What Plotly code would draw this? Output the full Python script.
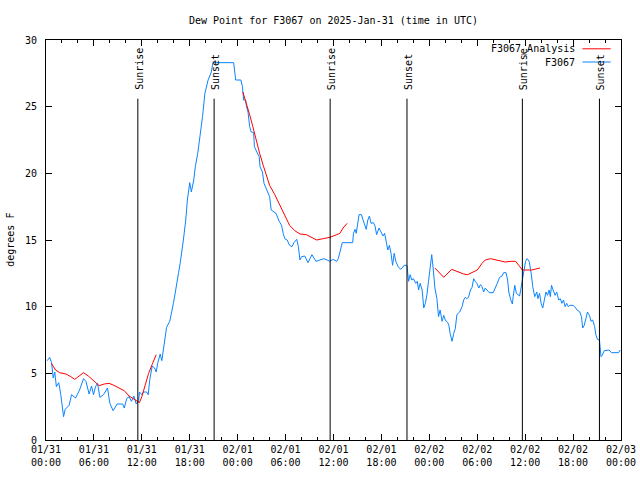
import plotly.graph_objects as go
import pandas as pd

START = "2025-01-31 00:00"

# Observed dew point (hours since start, degrees F)
obs_hours = [0.16, 0.46, 0.7, 0.9, 1.1, 1.3, 1.6, 1.85, 2.2, 2.4, 2.9, 3.2, 3.7, 4.2, 4.7, 5.0, 5.4, 5.7, 5.95,
             6.2, 6.45, 6.75, 7.2, 7.7, 8.0, 8.4, 8.9, 9.6, 9.8, 10.1, 10.4, 10.7, 11.0, 11.3, 11.6, 11.7, 12.0,
             12.2, 12.6, 12.8, 13.0, 13.3, 13.6, 13.8, 14.0, 14.3, 14.5, 14.8, 15.0, 15.1, 15.5, 15.7, 15.95,
             16.2, 16.4, 16.6, 16.8, 17.05, 17.2, 17.5, 17.7, 18.0, 18.2, 18.5, 18.7, 19.0, 19.2, 19.6, 19.9,
             20.3, 20.7, 20.9, 23.5, 23.75, 24.4, 24.6, 24.75, 25.0, 25.1, 25.3, 25.5, 25.7, 26.0, 26.1, 26.4,
             26.7, 26.8, 27.1, 27.3, 27.5, 27.8, 28.0, 28.2, 28.8, 29.2, 29.5, 29.7, 29.9, 30.2, 30.5, 30.8,
             31.05, 31.4, 31.6, 31.8, 32.0, 32.4, 32.8, 33.3, 33.8, 34.3, 34.8, 35.2, 35.55, 35.95, 36.4, 36.6,
             37.1, 38.4, 38.5, 38.7, 38.85, 39.2, 39.5, 39.7, 39.9, 40.1, 40.3, 40.5, 40.7, 41.0, 41.2, 41.4,
             41.7, 42.0, 42.2, 42.4, 42.6, 42.8, 43.0, 43.2, 43.4, 43.6, 43.8, 44.1, 44.4, 44.6, 44.85, 45.2,
             45.4, 45.6, 45.8, 46.0, 46.3, 46.5, 46.65, 46.85, 47.1, 47.3, 47.5, 47.7, 47.9, 48.1, 48.3, 48.5,
             48.7, 48.95, 49.15, 49.35, 49.6, 49.8, 50.0, 50.3, 50.45, 50.6, 50.85, 51.05, 51.25, 51.45, 51.8,
             52.1, 52.3, 52.5, 52.7, 52.9, 53.15, 53.35, 53.55, 53.75, 53.95, 54.2, 54.4, 54.6, 54.8, 55.0,
             55.2, 55.5, 56.0, 56.3, 56.5, 56.8, 57.1, 57.3, 57.6, 57.8, 57.95, 58.2, 58.4, 58.5, 58.7, 58.9,
             59.1, 59.3, 59.45, 59.65, 59.85, 60.05, 60.25, 60.5, 60.75, 60.95, 61.2, 61.45, 61.6, 61.8, 62.0,
             62.2, 62.4, 62.6, 62.8, 63.0, 63.15, 63.3, 63.5, 63.75, 63.95, 64.2, 64.4, 64.6, 64.8, 65.0, 65.2,
             65.4, 65.6, 66.0, 66.2, 66.5, 66.85, 67.05, 67.2, 67.4, 67.6, 67.8, 68.05, 68.25, 68.45, 68.7,
             68.85, 69.05, 69.3, 69.4, 69.5, 69.65, 69.9, 70.5, 70.8, 71.7, 71.9]
obs_values = [5.95, 6.2, 5.8, 4.65, 5.1, 4.0, 4.3, 3.4, 1.75, 2.3, 2.6, 3.4, 3.15, 3.75, 4.6, 4.4, 3.45, 4.05, 3.4,
              4.0, 4.25, 3.2, 3.4, 3.9, 2.75, 2.2, 2.7, 2.7, 2.4, 3.1, 3.25, 2.9, 3.3, 2.7, 2.95, 3.6, 3.4,
              3.6, 3.6, 3.4, 4.55, 5.55, 5.4, 5.1, 5.8, 6.45, 5.95, 7.25, 8.0, 8.45, 8.9, 9.45, 10.25,
              11.1, 11.95, 12.55, 13.25, 14.25, 15.0, 16.5, 18.0, 19.3, 18.6, 19.5, 20.5, 21.5, 22.4, 24.25, 26.0,
              27.0, 27.6, 28.3, 28.3, 27.0, 27.0, 26.5, 25.5, 25.5, 25.0, 24.6, 23.5, 23.1, 23.05, 22.0, 21.6,
              21.25, 20.5, 20.1, 19.25, 19.0, 18.6, 18.25, 17.25, 17.0, 16.4, 16.1, 15.5, 15.1, 15.0, 14.6, 14.5,
              14.8, 15.05, 14.5, 13.5, 13.75, 13.8, 13.3, 13.9, 13.4, 13.5, 13.6, 13.5, 13.4, 13.55, 13.4, 13.6,
              14.8, 14.8, 15.5, 15.8, 15.5, 16.9, 16.9, 16.5, 16.1, 15.8, 16.5, 16.8, 16.25, 16.3, 16.05, 15.4,
              15.9, 15.55, 15.3, 15.5, 14.75, 14.25, 14.6, 14.0, 13.1, 14.0, 13.4, 13.0, 12.8, 12.9, 13.1, 13.1,
              11.9, 12.4, 12.0, 12.1, 11.75, 11.9, 11.25, 11.75, 11.25, 9.9, 10.25, 10.9, 11.9, 13.0, 13.9, 12.75,
              11.4, 10.6, 9.25, 9.75, 8.9, 9.35, 9.0, 8.8, 8.6, 8.0, 7.4, 8.0, 8.35, 9.4, 9.6,
              10.0, 10.5, 10.7, 10.6, 10.7, 11.25, 11.45, 12.1, 11.9, 11.75, 11.4, 11.65, 11.5, 11.1, 11.4,
              11.25, 11.05, 11.05, 11.4, 11.75, 12.2, 12.3, 12.55, 12.55, 12.0, 11.1, 10.5, 10.2, 10.75, 11.6, 11.0,
              10.9, 10.8, 11.3, 12.0, 12.9, 13.4, 13.6, 13.4, 12.5, 11.5, 10.75, 11.1, 10.6, 11.0, 10.25,
              9.9, 10.5, 11.1, 10.85, 11.25, 10.75, 11.6, 11.25, 10.85, 11.1, 10.5, 10.6, 10.25, 10.5, 10.0, 10.25,
              10.0, 10.1, 10.1, 10.0, 9.75, 9.6, 9.25, 8.4, 8.6, 9.1, 9.6, 9.35, 8.9, 9.0, 8.5,
              7.9, 7.55, 7.5, 6.5, 6.25, 6.35, 6.7, 6.75, 6.55, 6.55, 6.75]

# Analysis dew point segments (None = gap)
ana_hours = [0.67, 1.2, 1.7, 2.5, 3.1, 3.6, 4.15, 4.7, 5.3, 5.8, 6.2, 6.65, 7.3, 7.9, 8.5, 9.2, 9.8, 10.4, 11.0,
             11.4, 11.7, 12.0, 12.45, 12.85, 13.35, 13.8, 18.0,
             24.65, 25.1, 25.5, 25.9, 26.3, 26.75, 27.2, 27.6, 28.0, 28.65, 29.3, 29.9, 30.5, 31.15, 31.8, 32.6,
             33.25, 33.9, 34.7, 35.55, 36.4, 36.8, 37.2, 37.7, 42.0,
             48.7, 49.8, 50.8, 51.6, 52.3, 52.8, 53.35, 54.0, 54.6, 55.0, 55.65, 56.3, 56.9, 57.5, 58.2, 58.8,
             59.2, 59.65, 60.8, 61.3, 61.85]
ana_values = [5.75, 5.25, 5.05, 4.95, 4.75, 4.55, 4.8, 5.05, 4.8, 4.55, 4.3, 4.075, 4.2, 4.25, 4.1, 3.9, 3.7, 3.3,
              3.05, 2.95, 2.8, 3.25, 4.1, 5.0, 5.75, 6.4, None,
              26.1, 25.25, 24.4, 23.5, 22.5, 21.5, 20.6, 19.75, 19.1, 18.4, 17.6, 16.9, 16.1, 15.7, 15.45, 15.4,
              15.2, 15.0, 15.1, 15.2, 15.4, 15.5, 15.9, 16.25, None,
              12.9, 12.2, 12.8, 12.6, 12.45, 12.4, 12.55, 12.75, 13.25, 13.5, 13.6, 13.5, 13.4, 13.35, 13.4, 13.4,
              13.1, 12.75, 12.75, 12.8, 12.9]

# Sun events (hours since start)
event_hours = [11.5, 21.05, 35.58, 45.2, 59.65, 69.3]
event_labels = ["Sunrise", "Sunset", "Sunrise", "Sunset", "Sunrise", "Sunset"]

# X tick labels every 6 hours
tick_hours = [0, 6, 12, 18, 24, 30, 36, 42, 48, 54, 60, 66, 72]
tick_labels = ["01/31<br>00:00", "01/31<br>06:00", "01/31<br>12:00", "01/31<br>18:00",
               "02/01<br>00:00", "02/01<br>06:00", "02/01<br>12:00", "02/01<br>18:00",
               "02/02<br>00:00", "02/02<br>06:00", "02/02<br>12:00", "02/02<br>18:00",
               "02/03<br>00:00"]

start = pd.Timestamp(START)


def to_time(hours):
    return [start + pd.Timedelta(hours=h) for h in hours]


FONT = "DejaVu Sans Mono"
RED = "#ff0000"
BLUE = "#0a84ff"

W, H = 640, 480

fig = go.Figure()
fig.add_trace(go.Scatter(x=to_time(obs_hours), y=obs_values, mode="lines",
                         line=dict(color=BLUE, width=1), name="F3067", showlegend=False))
fig.add_trace(go.Scatter(x=to_time(ana_hours), y=ana_values, mode="lines", connectgaps=False,
                         line=dict(color=RED, width=1), name="F3067_Analysis", showlegend=False))

shapes = []
annotations = []
for h, lab in zip(event_hours, event_labels):
    t = start + pd.Timedelta(hours=h)
    shapes.append(dict(type="line", xref="x", yref="y", x0=t, x1=t, y0=0, y1=25.6,
                       line=dict(color="black", width=1)))
    annotations.append(dict(x=t, y=26.1, xref="x", yref="y", text=lab, textangle=-90,
                            showarrow=False, xanchor="center", yanchor="bottom", xshift=1,
                            font=dict(family=FONT, size=10, color="black")))

# legend (text then sample line, gnuplot style)
legend_items = [("F3067_Analysis", RED, 0.978), ("F3067", BLUE, 0.945)]
for name, col, yp in legend_items:
    annotations.append(dict(x=0.923, y=yp, xref="paper", yref="paper", text=name, showarrow=False,
                            xanchor="right", yanchor="middle",
                            font=dict(family=FONT, size=10, color="black")))
    shapes.append(dict(type="line", xref="paper", yref="paper", x0=0.933, x1=0.982, y0=yp, y1=yp,
                       line=dict(color=col, width=1)))

annotations.append(dict(x=-0.063, y=0.5, xref="paper", yref="paper", text="degrees F", textangle=-90,
                        showarrow=False, xanchor="center", yanchor="middle",
                        font=dict(family=FONT, size=10, color="black")))

fig.update_layout(
    width=W, height=H,
    margin=dict(l=46, r=19, t=40, b=40, autoexpand=False),
    paper_bgcolor="white", plot_bgcolor="white",
    title=dict(text="Dew Point for F3067 on 2025-Jan-31 (time in UTC)", x=0.5, xref="paper",
               y=1 - 20 / H, yref="container", xanchor="center", yanchor="middle",
               font=dict(family=FONT, size=10, color="black")),
    font=dict(family=FONT, size=10, color="black"),
    shapes=shapes, annotations=annotations,
    hovermode=False,
    xaxis=dict(range=[start, start + pd.Timedelta(hours=72)], tickmode="array",
               tickvals=to_time(tick_hours), ticktext=tick_labels,
               ticks="inside", ticklen=6, tickcolor="black", showline=True, linecolor="black",
               linewidth=1, mirror="allticks", showgrid=False, zeroline=False,
               minor=dict(tickmode="linear", tick0=start, dtick=2 * 3600 * 1000, ticks="inside",
                          ticklen=3, tickcolor="black", showgrid=False),
               tickfont=dict(family=FONT, size=10, color="black")),
    yaxis=dict(range=[0, 30], tickmode="linear", tick0=0, dtick=5, ticks="inside", ticklen=6,
               tickcolor="black", showline=True, linecolor="black", linewidth=1, mirror="allticks",
               showgrid=False, zeroline=False, ticklabelstandoff=6,
               tickfont=dict(family=FONT, size=10, color="black")),
)

# remove the default 8px page margin so the 640x480 figure fills the window exactly
fig.write_html("out.html", config={"displayModeBar": False, "staticPlot": True},
               post_script="document.body.style.margin='0';document.body.style.overflow='hidden';")
